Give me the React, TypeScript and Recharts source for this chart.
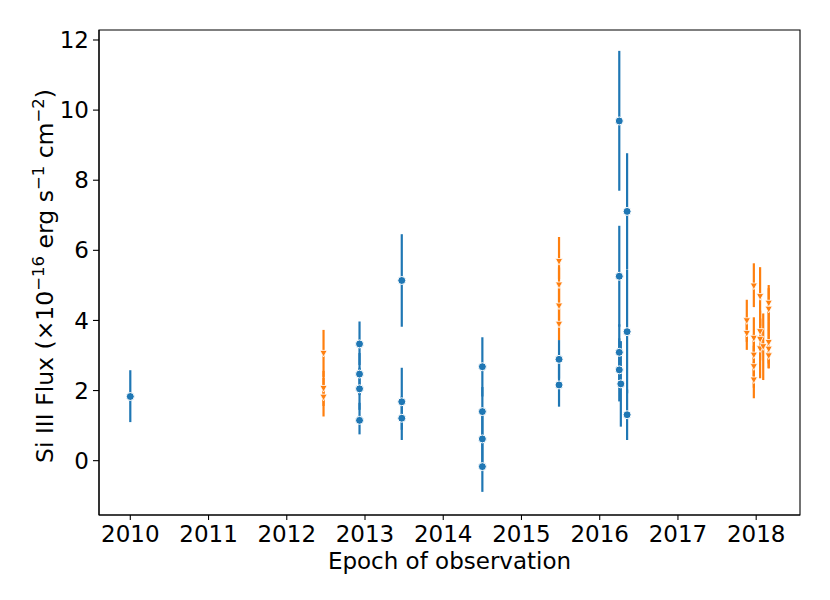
import React from "react";
import { ScatterChart, Scatter, XAxis, YAxis, ErrorBar, ReferenceArea } from "recharts";

// Detections (blue)
const blueX = [2010.0, 2012.93, 2012.93, 2012.93, 2012.93, 2013.47, 2013.47, 2013.47, 2014.5, 2014.5, 2014.5, 2014.5, 2015.48, 2015.48, 2016.25, 2016.25, 2016.25, 2016.25, 2016.27, 2016.35, 2016.35, 2016.35];
const blueY = [1.83, 3.33, 2.47, 2.05, 1.15, 5.14, 1.68, 1.21, 2.68, 1.40, 0.62, -0.17, 2.89, 2.16, 9.69, 5.26, 3.09, 2.59, 2.19, 7.11, 3.68, 1.31];
const blueErrLow = [0.73, 0.6, 0.6, 0.6, 0.4, 1.32, 0.8, 0.62, 0.85, 0.7, 0.7, 0.72, 0.55, 0.62, 1.99, 1.44, 0.8, 0.9, 1.22, 1.66, 1.76, 0.72];
const blueErrHigh = [0.75, 0.64, 0.6, 0.6, 0.5, 1.32, 0.97, 0.62, 0.84, 0.7, 0.7, 0.72, 0.55, 0.62, 2.0, 1.44, 0.8, 0.9, 1.22, 1.66, 1.76, 0.72];

// Upper limits (orange)
const orangeX = [2012.47, 2012.47, 2012.47, 2015.48, 2015.48, 2015.48, 2015.48, 2017.88, 2017.88, 2017.97, 2017.97, 2017.97, 2017.97, 2017.97, 2018.05, 2018.05, 2018.05, 2018.05, 2018.09, 2018.16, 2018.16, 2018.16, 2018.16, 2018.16];
const orangeY = [3.06, 2.06, 1.81, 5.68, 5.01, 4.41, 3.89, 3.99, 3.63, 4.98, 3.49, 3.01, 2.68, 2.30, 4.68, 3.68, 3.46, 3.19, 3.25, 4.49, 4.32, 3.37, 3.18, 2.99];
const orangeErrLow = [0.67, 0.5, 0.55, 0.5, 0.5, 0.5, 0.45, 0.6, 0.47, 0.6, 0.6, 0.6, 0.6, 0.52, 0.84, 0.6, 0.6, 0.84, 0.95, 0.52, 0.6, 0.6, 0.55, 0.35];
const orangeErrHigh = [0.67, 0.5, 0.55, 0.7, 0.5, 0.5, 0.45, 0.6, 0.47, 0.65, 0.6, 0.6, 0.6, 0.52, 0.84, 0.6, 0.6, 0.84, 0.95, 0.52, 0.6, 0.6, 0.55, 0.35];

const xTicks = [2010, 2011, 2012, 2013, 2014, 2015, 2016, 2017, 2018];
const yTicks = [0, 2, 4, 6, 8, 10, 12];
const xDomain = [2009.6, 2018.56];
const yDomain = [-1.55, 12.285];

const BLUE = "#1f77b4";
const ORANGE = "#ff7f0e";
const FONT = "DejaVu Sans";

const blueData = blueX.map((x, i) => ({ x, y: blueY[i], err: [blueErrLow[i], blueErrHigh[i]] }));
const orangeData = orangeX.map((x, i) => ({ x, y: orangeY[i], err: [orangeErrLow[i], orangeErrHigh[i]] }));

const Circle = (props: any) => (
  <circle cx={props.cx} cy={props.cy} r={4} fill={BLUE} stroke="#ffffff" strokeWidth={1} />
);

const Tri = (props: any) => {
  const { cx, cy } = props;
  const pts = `${cx - 3.6},${cy - 3} ${cx + 3.6},${cy - 3} ${cx},${cy + 3.6}`;
  return <polygon points={pts} fill={ORANGE} stroke="#ffffff" strokeWidth={0.8} />;
};

const XLabel = (props: any) => {
  const vb = props.viewBox || {};
  return (
    <text x={vb.x + vb.width / 2} y={569} textAnchor="middle" fontFamily={FONT} fontSize={23} fill="#000">
      Epoch of observation
    </text>
  );
};

const YLabel = () => {
  const cx = 53;
  const cy = 276;
  return (
    <text x={cx} y={cy} textAnchor="middle" fontFamily={FONT} fontSize={23.5} fill="#000" transform={`rotate(-90, ${cx}, ${cy})`}>
      <tspan>Si III Flux (×10</tspan>
      <tspan fontSize={16.5} dy={-9.5}>−16</tspan>
      <tspan dy={9.5}> erg s</tspan>
      <tspan fontSize={16.5} dy={-9.5}>−1</tspan>
      <tspan dy={9.5}> cm</tspan>
      <tspan fontSize={16.5} dy={-9.5}>−2</tspan>
      <tspan dy={9.5}>)</tspan>
    </text>
  );
};

const tickStyle = { fontFamily: FONT, fontSize: 23, fill: "#000" };

export default function App() {
  return (
    <div style={{ position: "absolute", left: 0, top: 0, width: 830, height: 600, background: "#fff" }}>
      <ScatterChart width={830} height={600} margin={{ top: 30, right: 30, bottom: 0, left: 0 }}>
        <XAxis
          type="number"
          dataKey="x"
          domain={xDomain}
          ticks={xTicks}
          allowDataOverflow
          height={85}
          tickSize={5}
          tickMargin={6}
          tick={tickStyle}
          stroke="#000"
          axisLine={{ stroke: "#000", strokeWidth: 1.1 }}
          tickLine={{ stroke: "#000", strokeWidth: 1.1 }}
          label={<XLabel />}
        />
        <YAxis
          type="number"
          dataKey="y"
          domain={yDomain}
          ticks={yTicks}
          allowDataOverflow
          width={99}
          tickSize={6}
          tickMargin={4}
          tick={tickStyle}
          axisLine={{ stroke: "#000", strokeWidth: 1.1 }}
          tickLine={{ stroke: "#000", strokeWidth: 1.1 }}
          label={<YLabel />}
        />
        <ReferenceArea
          x1={xDomain[0]}
          x2={xDomain[1]}
          y1={yDomain[0]}
          y2={yDomain[1]}
          fill="none"
          fillOpacity={0}
          stroke="#000"
          strokeWidth={1.1}
          ifOverflow="visible"
        />
        <Scatter data={blueData} fill={BLUE} shape={<Circle />} isAnimationActive={false}>
          <ErrorBar dataKey="err" direction="y" width={0} stroke={BLUE} strokeWidth={2.2} isAnimationActive={false} />
        </Scatter>
        <Scatter data={orangeData} fill={ORANGE} shape={<Tri />} isAnimationActive={false}>
          <ErrorBar dataKey="err" direction="y" width={0} stroke={ORANGE} strokeWidth={2.2} isAnimationActive={false} />
        </Scatter>
      </ScatterChart>
    </div>
  );
}
